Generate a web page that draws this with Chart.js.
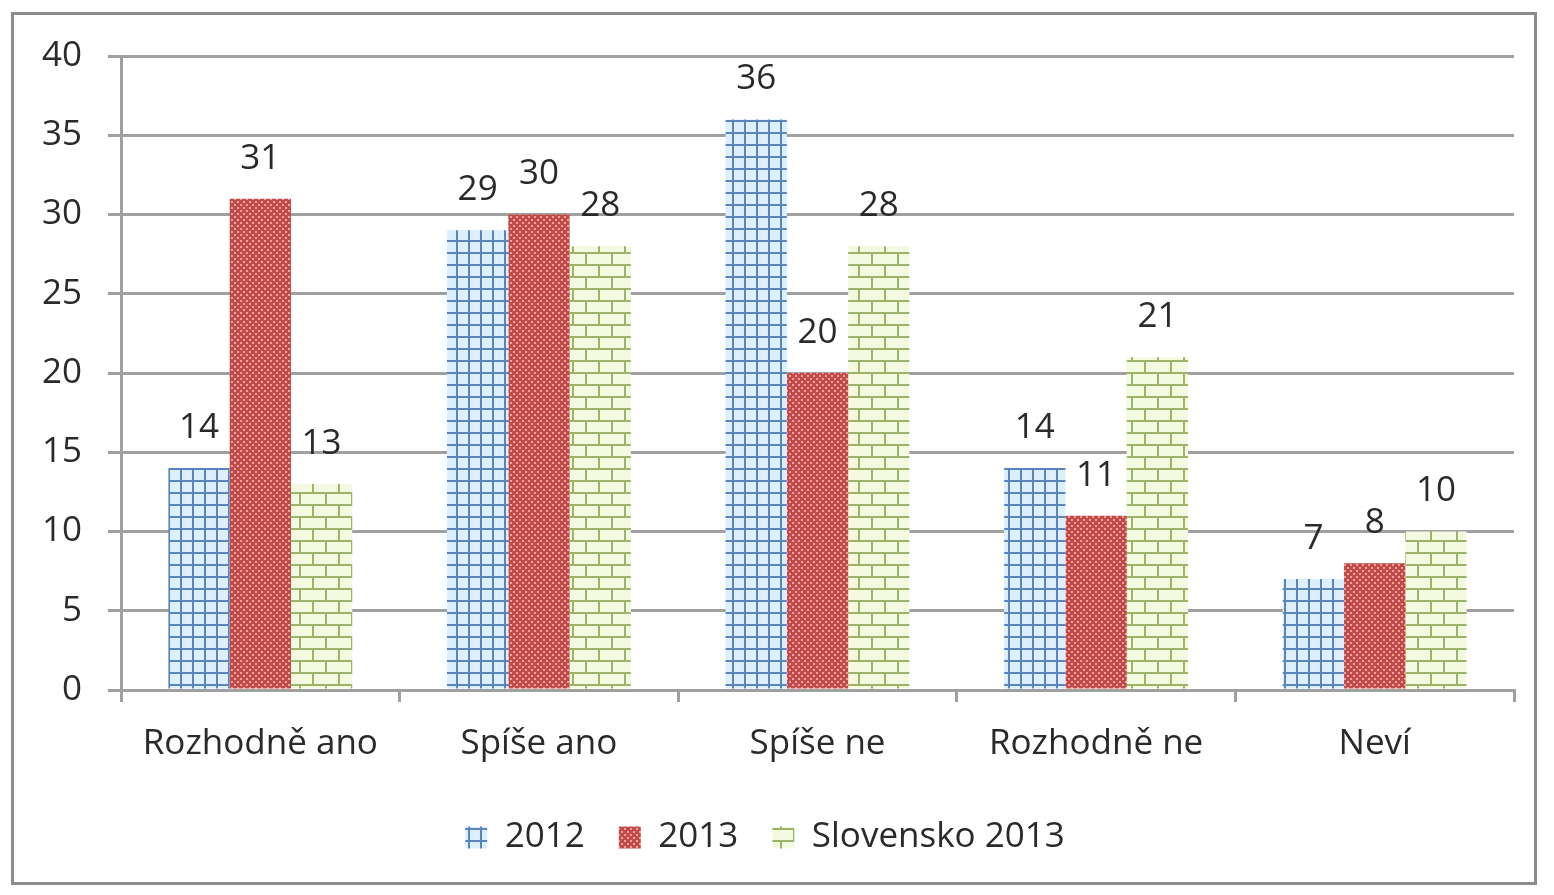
<!DOCTYPE html>
<html>
<head>
<meta charset="utf-8">
<script src="https://cdn.jsdelivr.net/npm/chart.js@4"></script>
<style>
  html, body { margin: 0; padding: 0; background: #fff; }
  #wrap { position: absolute; left: 0; top: 0; width: 1554px; height: 895px; }
  #frame { position: absolute; left: 11px; top: 12px; width: 1526px; height: 873px; border: 3px solid #8c8c8c; box-sizing: border-box; }
</style>
</head>
<body>
<div id="wrap">
  <div id="frame"></div>
  <canvas id="chart" width="1554" height="895"></canvas>
</div>
<script>
// categories and values
const categories = ['Rozhodně ano', 'Spíše ano', 'Spíše ne', 'Rozhodně ne', 'Neví'];
const values2012 = [14, 29, 36, 14, 7];
const values2013 = [31, 30, 20, 11, 8];
const valuesSk2013 = [13, 28, 28, 21, 10];
const seriesNames = ['2012', '2013', 'Slovensko 2013'];

function makeTile(w, h, draw) {
    const c = document.createElement('canvas');
    c.width = w;
    c.height = h;
    draw(c.getContext('2d'));
    return c.getContext('2d').createPattern(c, 'repeat');
}

// blue grid
const bluePattern = makeTile(12, 12, ctx => {
    ctx.fillStyle = '#dcefff';
    ctx.fillRect(0, 0, 12, 12);
    ctx.fillStyle = '#5a84bb';
    ctx.fillRect(0, 0, 12, 2);
    ctx.fillRect(0, 0, 2, 12);
});

// red dotted checker
const redPattern = makeTile(6, 6, ctx => {
    ctx.fillStyle = '#bf4a48';
    ctx.fillRect(0, 0, 6, 6);
    ctx.fillStyle = '#f2a0a0';
    ctx.fillRect(0, 0, 2, 2);
    ctx.fillRect(3, 3, 2, 2);
});

// green bricks
const greenPattern = makeTile(26, 24, ctx => {
    ctx.fillStyle = '#f4fae0';
    ctx.fillRect(0, 0, 26, 24);
    ctx.fillStyle = '#9bb46a';
    ctx.fillRect(0, 0, 26, 2);
    ctx.fillRect(0, 12, 26, 2);
    ctx.fillRect(0, 0, 2, 12);
    ctx.fillRect(13, 12, 2, 12);
});

const valueLabels = {
    id: 'valueLabels',
    afterDatasetsDraw(chart) {
        const ctx = chart.ctx;
        ctx.save();
        ctx.font = '35px "Open Sans"';
        ctx.fillStyle = '#2a2a2a';
        ctx.textAlign = 'center';
        ctx.textBaseline = 'middle';
        chart.data.datasets.forEach((ds, i) => {
            chart.getDatasetMeta(i).data.forEach((bar, j) => {
                ctx.fillText(ds.data[j], bar.x, bar.y - 40);
            });
        });
        ctx.restore();
    }
};

Chart.defaults.font.family = '"Open Sans"';
Chart.defaults.font.size = 35;
Chart.defaults.color = '#2a2a2a';

new Chart(document.getElementById('chart'), {
    type: 'bar',
    data: {
        labels: categories,
        datasets: [
            { label: seriesNames[0], data: values2012, backgroundColor: bluePattern },
            { label: seriesNames[1], data: values2013, backgroundColor: redPattern },
            { label: seriesNames[2], data: valuesSk2013, backgroundColor: greenPattern }
        ]
    },
    options: {
        responsive: false,
        animation: false,
        layout: { padding: { top: 56, left: 16, right: 40, bottom: 30 } },
        datasets: { bar: { categoryPercentage: 0.66, barPercentage: 1, borderWidth: 0 } },
        plugins: {
            tooltip: { enabled: false },
            legend: {
                position: 'bottom',
                labels: { boxWidth: 22, boxHeight: 22, padding: 34, font: { size: 35 } }
            }
        },
        scales: {
            x: {
                grid: { drawOnChartArea: false, drawTicks: true, tickLength: 12, color: '#a0a0a0', lineWidth: 3 },
                border: { color: '#a0a0a0', width: 3 },
                ticks: { padding: 21, font: { size: 35 } }
            },
            y: {
                min: 0,
                max: 40,
                ticks: { stepSize: 5, padding: 26, font: { size: 35 } },
                grid: { color: '#a0a0a0', lineWidth: 3, tickLength: 13 },
                border: { color: '#a0a0a0', width: 3 }
            }
        }
    },
    plugins: [valueLabels]
});
</script>
</body>
</html>
